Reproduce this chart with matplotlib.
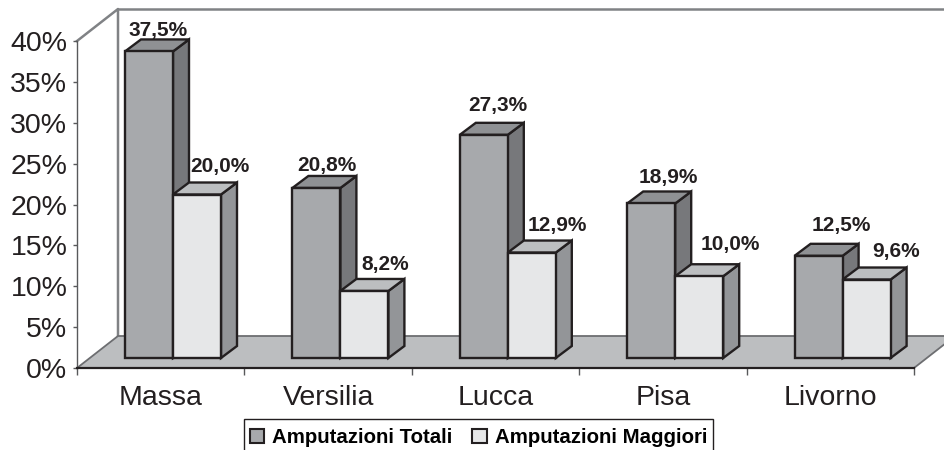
import matplotlib
matplotlib.use("Agg")
import matplotlib.pyplot as plt
from matplotlib.patches import Polygon, Patch, Rectangle

plt.rcParams['font.family'] = ['Liberation Sans', 'DejaVu Sans']

cities = ['Massa', 'Versilia', 'Lucca', 'Pisa', 'Livorno']
totali = [37.5, 20.8, 27.3, 18.9, 12.5]
maggiori = [20.0, 8.2, 12.9, 10.0, 9.6]
totali_txt = ['37,5%', '20,8%', '27,3%', '18,9%', '12,5%']
maggiori_txt = ['20,0%', '8,2%', '12,9%', '10,0%', '9,6%']
yticks = [0, 5, 10, 15, 20, 25, 30, 35, 40]

# label nudges in pixels, from the centre of the bar top
tot_nudge = [(9, 21), (10, 22), (14, 29), (17, 26), (23, 30)]
mag_nudge = [(23, 28), (21, 26), (26, 27), (31, 32), (29, 28)]

DARK = ('#a7a9ac', '#8f9194', '#77787b')
LIGHT = ('#e6e7e8', '#bcbec0', '#939598')
INK = '#231f20'
W, H = 944, 450
X0, X1, Y0, Y1 = 77, 914, 368, 41

fig = plt.figure(figsize=(W / 100, H / 100), dpi=100)
ax = fig.add_axes([X0 / W, 1 - Y0 / H, (X1 - X0) / W, (Y0 - Y1) / H])
ax.set_xlim(0, 5)
ax.set_ylim(0, 40)
ax.patch.set_alpha(0)

px = 5 / (X1 - X0)   # one pixel in x data
py = 40 / (Y0 - Y1)  # one pixel in y data
base = 10 * py       # bars stand a little behind the front edge of the floor


def poly(pts, fc, ec=INK, lw=1.7, z=3):
    ax.add_patch(Polygon(pts, closed=True, fc=fc, ec=ec, lw=lw, zorder=z,
                         clip_on=False, joinstyle='miter'))


def bar(x, w, v, cols, z):
    dx, dy = 16 * px, 12 * py
    top = base + v
    poly([(x + w, base), (x + w + dx, base + dy), (x + w + dx, top + dy), (x + w, top)], cols[2], z=z)
    poly([(x, top), (x + dx, top + dy), (x + w + dx, top + dy), (x + w, top)], cols[1], z=z)
    poly([(x, base), (x + w, base), (x + w, top), (x, top)], cols[0], z=z)


# back wall and floor
wx, wy = 41 * px, 32 * py
top_wall = 40 + wy
ax.plot([0, wx, wx], [40, top_wall, wy], color='#808285', lw=1.8, clip_on=False, zorder=1)
ax.plot([wx, 5.3], [top_wall, top_wall], color='#808285', lw=1.8, clip_on=False, zorder=1)
poly([(0, 0), (wx, wy), (5 + wx, wy), (5, 0)], '#bcbec0', ec='#6d6e71', lw=1.3, z=1)

bw = 48 * px
for i in range(len(cities)):
    left = i + 48 * px
    bar(left, bw, totali[i], DARK, 3 + i)
    bar(left + bw, bw, maggiori[i], LIGHT, 3 + i + 0.5)
    ax.text(left + bw / 2 + tot_nudge[i][0] * px, base + totali[i] + tot_nudge[i][1] * py, totali_txt[i],
            ha='center', va='center', fontsize=15, fontweight='bold', color=INK, zorder=20, clip_on=False)
    ax.text(left + 1.5 * bw + mag_nudge[i][0] * px, base + maggiori[i] + mag_nudge[i][1] * py, maggiori_txt[i],
            ha='center', va='center', fontsize=15, fontweight='bold', color=INK, zorder=20, clip_on=False)

ax.set_yticks(yticks)
ax.set_yticklabels([str(v) + '%' for v in yticks], fontsize=20.5, color=INK)
ax.set_xticks(range(6))
ax.set_xticks([i + 0.5 for i in range(5)], minor=True)
ax.set_xticklabels([''] * 6)
ax.set_xticklabels(cities, minor=True, fontsize=20.5, color=INK)
ax.tick_params(axis='x', which='major', length=5, width=1, color='#58595b')
ax.tick_params(axis='x', which='minor', length=0, pad=12)
ax.tick_params(axis='y', length=3, width=1, color='#58595b', pad=4)
for s in ['top', 'right']:
    ax.spines[s].set_visible(False)
ax.spines['left'].set_color('#58595b')
ax.spines['left'].set_linewidth(1)
ax.spines['bottom'].set_color(INK)
ax.spines['bottom'].set_linewidth(1.6)
ax.spines['bottom'].set_zorder(15)

# legend box runs off the bottom of the picture
fig.add_artist(Rectangle((244 / W, -10 / H), 469 / W, 41 / H, transform=fig.transFigure,
                         fc='white', ec=INK, lw=1))
handles = [Patch(fc=DARK[0], ec=INK, lw=1.5), Patch(fc=LIGHT[0], ec=INK, lw=1.5)]
leg = fig.legend(handles, ['Amputazioni Totali', 'Amputazioni Maggiori'], ncol=2,
                 loc='center left', bbox_to_anchor=(250 / W, 12.5 / H),
                 prop={'weight': 'bold', 'size': 14.7}, frameon=False,
                 handlelength=0.7, handleheight=0.7, handletextpad=0.4, columnspacing=0.95,
                 borderpad=0, borderaxespad=0)

fig.savefig('out.png', dpi=100)
